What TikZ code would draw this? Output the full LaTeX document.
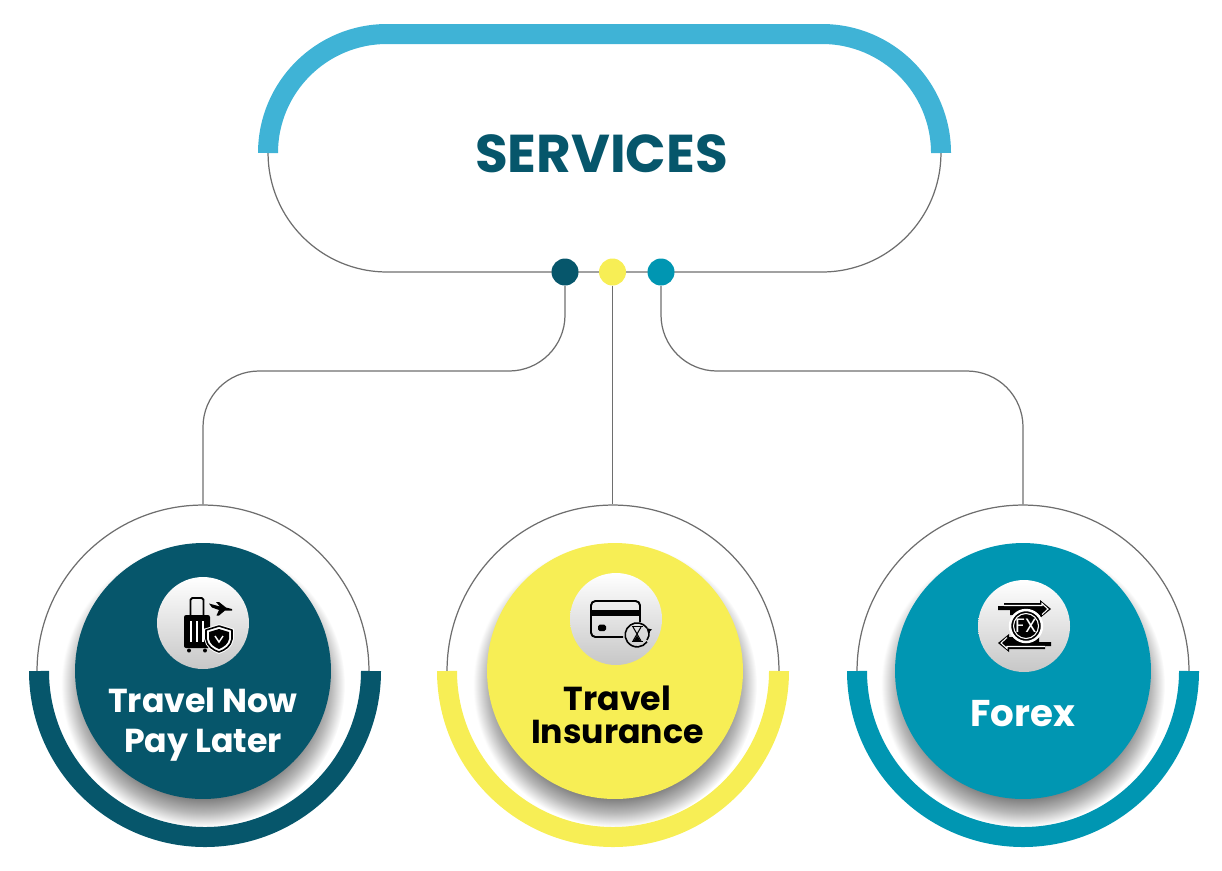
\documentclass[tikz,border=0pt]{standalone}
\usepackage{fontspec}
\setmainfont{Poppins}[BoldFont={Poppins Bold}]

\definecolor{deepteal}{HTML}{06566B}
\definecolor{lemon}{HTML}{F7EE55}
\definecolor{seateal}{HTML}{0096B2}
\definecolor{skyblue}{HTML}{3FB3D6}
\definecolor{wireline}{HTML}{6E6E6E}

\pgfdeclareradialshading{discshadow}{\pgfpoint{0bp}{0bp}}{
    color(0bp)=(black!50);
    color(20bp)=(black!50);
    color(22.5bp)=(black!28);
    color(25bp)=(white);
    color(50bp)=(white)}

\tikzset{
    wire/.style={draw=wireline, line width=0.7pt},
    ring/.style={circle, wire, inner sep=0pt, minimum size=6.64cm},
    band/.style={line width=0.4cm},
    dot/.style={circle, inner sep=0pt, minimum size=0.54cm},
    disc/.style={circle, inner sep=0pt, minimum size=5.12cm},
    badge/.style={circle, inner sep=0pt, minimum size=1.84cm, top color=white, bottom color=black!22},
    caption/.style={align=center, text=white, font=\fontsize{18.9}{22.7}\selectfont\bfseries},
    ink/.style={black, line join=round}
}

\begin{document}
\begin{tikzpicture}[x=0.02cm, y=-0.02cm]
    \useasboundingbox (0,0) rectangle (1222,870);

    \node[rectangle, wire, rounded corners=2.38cm, inner sep=0pt, minimum width=13.46cm, minimum height=4.76cm] (pill) at (604.5,153) {};
    \draw[band, skyblue] (268,153) arc[start angle=180, end angle=270, radius=119] -- (822,34) arc[start angle=270, end angle=360, radius=119];
    \node[text=deepteal, font=\fontsize{30.3}{38}\selectfont\bfseries] (title) at (601.5,154) {SERVICES};

    \node[ring] (ringA) at (203,671) {};
    \node[ring] (ringB) at (613,671) {};
    \node[ring] (ringC) at (1023,671) {};

    \node[dot, fill=deepteal] (dotA) at (565,272) {};
    \node[dot, fill=lemon] (dotB) at (612.5,272) {};
    \node[dot, fill=seateal] (dotC) at (661,272) {};

    \coordinate (busA) at (203,371);
    \coordinate (busC) at (1023,371);
    \draw[wire, rounded corners=1.12cm] (dotA.south) |- (busA) -- (ringA.north);
    \draw[wire] (dotB.south) -- (dotB.south |- ringB.north);
    \draw[wire, rounded corners=1.12cm] (dotC.south) |- (busC) -- (ringC.north);

    % soft shadows under the discs
    \shade[shading=discshadow] (203,685) circle[radius=142];
    \shade[shading=discshadow] (615,685) circle[radius=142];
    \shade[shading=discshadow] (1023,685) circle[radius=142];

    \node[disc, fill=deepteal] (discA) at (203,671) {};
    \node[disc, fill=lemon] (discB) at (615,671) {};
    \node[disc, fill=seateal] (discC) at (1023,671) {};

    \draw[band, deepteal] (39,671) arc[start angle=180, end angle=0, radius=166];
    \draw[band, lemon] (447,671) arc[start angle=180, end angle=0, radius=166];
    \draw[band, seateal] (857,671) arc[start angle=180, end angle=0, radius=166];

    \node[badge] (badgeA) at (203,623) {};
    \node[badge] (badgeB) at (616,619) {};
    \node[badge] (badgeC) at (1024,626) {};

    \node[caption] (textA) at (203,725) {Travel Now\\Pay Later};
    \node[caption, text=black, font=\fontsize{18.9}{18.7}\selectfont\bfseries] (textB) at (617.5,715) {Travel\\Insurance};
    \node[caption, font=\fontsize{21.2}{24}\selectfont\bfseries] (textC) at (1022.5,714) {Forex};

    % suitcase
    \draw[ink, line width=1.1pt, rounded corners=1pt] (190.5,615) -- (190.5,598) -- (203.5,598) -- (203.5,615);
    \fill[ink, rounded corners=1.2pt] (184,615) rectangle (210,648);
    \foreach \x in {191,197,203}
        \draw[white, line width=0.9pt] (\x,621) -- (\x,642);
    \fill[ink] (189,650.5) circle[radius=2];
    \fill[ink] (205,650.5) circle[radius=2];
    \fill[ink] (209,603.5) -- (220,606.5) -- (216,602) -- (219,602) -- (226,607.5) -- (232,609) -- (232,610.5) -- (225,610.5) -- (219,615.5) -- (216.5,615.5) -- (219,610) -- (212,607.5) -- cycle;
    \filldraw[fill=white, draw=white, line width=2pt] (219,626) -- (232,630) -- (232,639) .. controls (231,646) and (225,650) .. (219,652) .. controls (213,650) and (207,646) .. (206,639) -- (206,630) -- cycle;
    \draw[ink, line width=0.9pt] (219,626) -- (232,630) -- (232,639) .. controls (231,646) and (225,650) .. (219,652) .. controls (213,650) and (207,646) .. (206,639) -- (206,630) -- cycle;
    \fill[ink] (219,629) -- (229,632) -- (229,639) .. controls (228,644) and (224,647) .. (219,649) .. controls (214,647) and (210,644) .. (209,639) -- (209,632) -- cycle;
    \draw[white, line width=0.8pt] (215,636) -- (219,642) -- (223,636);

    % card with hourglass
    \draw[ink, line width=1.1pt, rounded corners=2.5pt] (623,637) -- (591,637) -- (591,601) -- (640,601) -- (640,622);
    \fill[ink] (591,610) rectangle (640,615.5);
    \fill[ink, rounded corners=1pt] (598,624.5) rectangle (606,631);
    \draw[ink, line width=0.9pt] (647,628) arc[start angle=-35, end angle=-325, radius=12];
    \draw[ink, line width=0.9pt] (647,640) arc[start angle=35, end angle=-10, radius=12];
    \fill[ink] (646.5,628) -- (652,629.5) -- (648,633) -- cycle;
    \draw[ink, line width=0.7pt] (631.5,626.5) -- (642.5,626.5);
    \draw[ink, line width=0.7pt] (631.5,641.5) -- (642.5,641.5);
    \draw[ink, line width=0.6pt] (633,627) -- (637,634) -- (641,627) (633,641) -- (637,634) -- (641,641);
    \fill[ink] (633.5,641) -- (640.5,641) -- (637,635.5) -- cycle;

    % forex arrows
    \foreach \turn in {0,180} {
        \begin{scope}[rotate around={\turn:(1024.5,626)}]
            \fill[ink] (998,606) -- (1004,606) -- (1004,603) -- (1040,603) -- (1040,600) -- (1051,609) -- (1040,618) -- (1040,615) -- (1010,615) -- (1010,610) -- (998,610) -- cycle;
            \draw[white, line width=0.6pt] (1004,605.5) -- (1042,605.5) -- (1042,603.5) -- (1048,609) -- (1042,614.5);
        \end{scope}
    }
    \filldraw[fill=black, draw=white, line width=1.4pt] (1026,626) circle[radius=16];
    \draw[white, line width=0.6pt] (1026,626) circle[radius=12.5];
    \node[text=white, inner sep=0pt, font=\fontsize{11}{12}\selectfont] (fx) at (1026,626) {FX};
\end{tikzpicture}
\end{document}
